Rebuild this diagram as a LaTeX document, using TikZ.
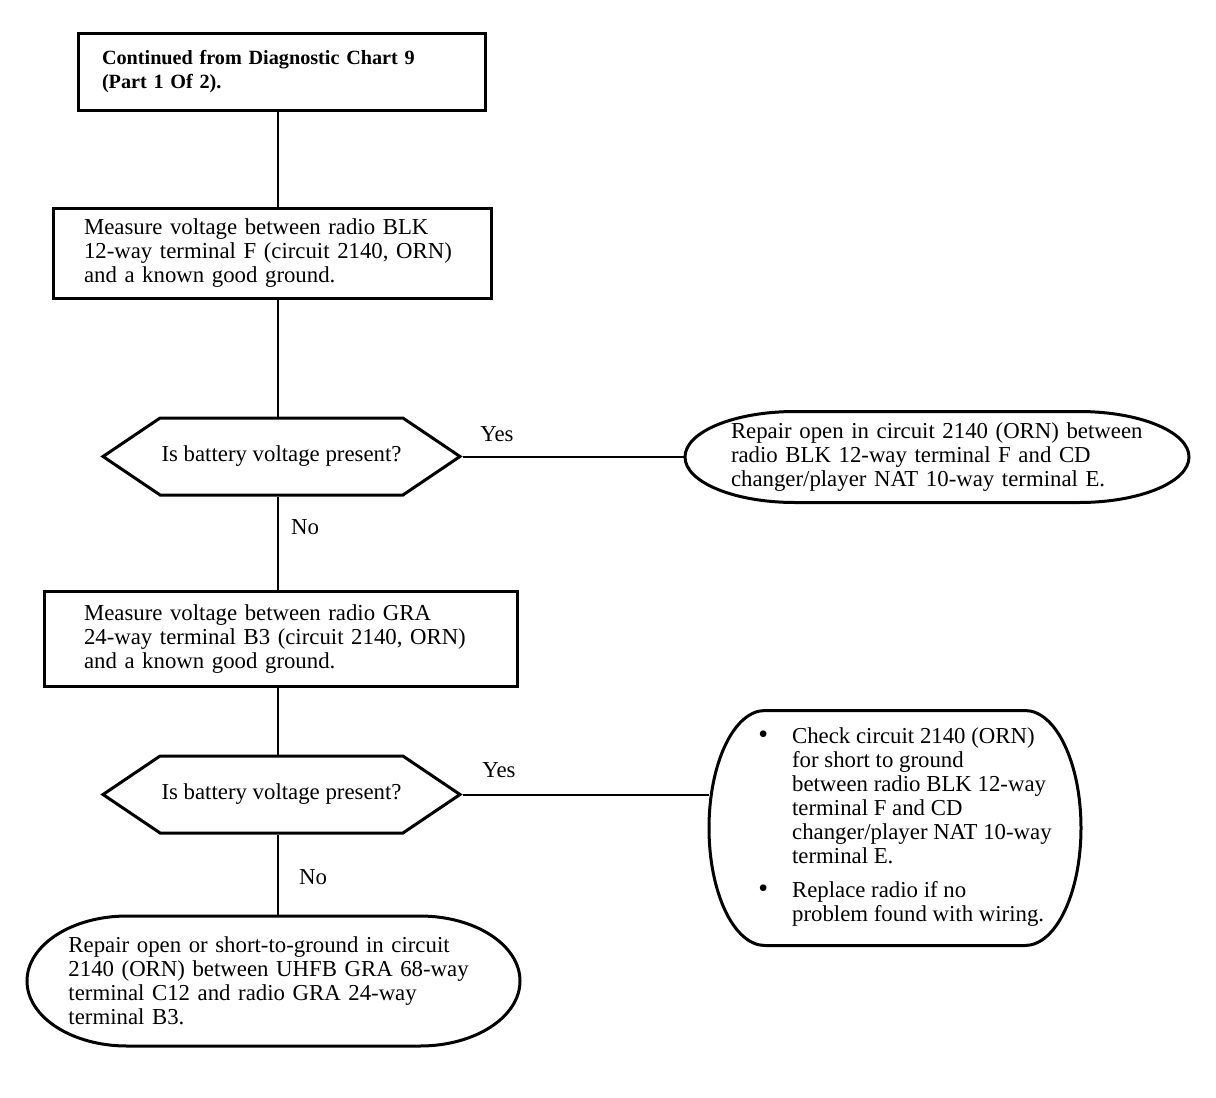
\documentclass[tikz,border=0pt]{standalone}
\usepackage{fontspec}
\setmainfont{Liberation Serif}
\usetikzlibrary{shapes.symbols}
\newcommand{\chartfont}{\fontsize{11.4}{12}\selectfont}
\newcommand{\chkdot}{{\fontsize{14}{12}\selectfont\textbullet}}
% outline of an end box: node, x radius, y radius of the end arcs
\newcommand{\drawterm}[3]{%
	\draw [line width=1.5pt] ([xshift=#2]#1.north west) -- ([xshift=-#2]#1.north east)
		arc [start angle=90,end angle=-90,x radius=#2,y radius=#3]
		-- ([xshift=#2]#1.south west)
		arc [start angle=270,end angle=90,x radius=#2,y radius=#3] -- cycle;}
\begin{document}
\begin{tikzpicture}[x=0.5pt,y=-0.5pt,
	box/.style={draw,line width=1.5pt,rectangle,align=left,inner ysep=0pt,font=\chartfont},
	decision/.style={draw,line width=1.5pt,signal,signal to=west and east,signal pointer angle=68,minimum width=178.5pt,minimum height=38.5pt,inner sep=0pt,font=\chartfont},
	term/.style={rectangle,align=left,inner sep=0pt,outer sep=0pt,font=\chartfont},
	lbl/.style={font=\chartfont}]
	\useasboundingbox (0,0) rectangle (1216,1098);
	\coordinate (trunk) at (278,0);
	% boxes down the left
	\node [box,text width=179.5pt,inner xsep=12pt,minimum height=38.5pt,font=\bfseries\fontsize{10.1}{12}\selectfont] (start) at (281.5,71.5) {Continued from Diagnostic Chart 9\\(Part 1 Of 2).};
	\node [box,text width=188pt,inner xsep=15.5pt,minimum height=45pt] (m1) at (272,253) {Measure voltage between radio BLK\\12-way terminal F (circuit 2140, ORN)\\and a known good ground.};
	\node [decision] (d1) at (281.5,456.5) {Is battery voltage present?};
	\node [box,text width=196.5pt,inner xsep=20pt,minimum height=47.5pt] (m2) at (280.5,639) {Measure voltage between radio GRA\\24-way terminal B3 (circuit 2140, ORN)\\and a known good ground.};
	\node [decision] (d2) at (281.5,794.5) {Is battery voltage present?};
	\node [term,minimum width=246.5pt,minimum height=65pt,text width=205pt] (r2) at (273.5,981) {Repair open or short-to-ground in circuit\\2140 (ORN) between UHFB GRA 68-way\\terminal C12 and radio GRA 24-way\\terminal B3.};
	\drawterm{r2}{50pt}{32.5pt}
	% boxes on the right
	\node [term,minimum width=252pt,minimum height=45.5pt,text width=206pt] (r1) at (937,457) {Repair open in circuit 2140 (ORN) between\\radio BLK 12-way terminal F and CD\\changer/player NAT 10-way terminal E.};
	\drawterm{r1}{55pt}{22.75pt}
	\node [term,minimum width=186pt,minimum height=117.5pt] (check) at (895,828) {\begin{tabular}{@{\hspace{10pt}}l@{\hspace{12pt}}l@{}}
		\chkdot & Check circuit 2140 (ORN)\\
		& for short to ground\\
		& between radio BLK 12-way\\
		& terminal F and CD\\
		& changer/player NAT 10-way\\
		& terminal E.\\[5pt]
		\chkdot & Replace radio if no\\
		& problem found with wiring.
	\end{tabular}};
	\drawterm{check}{28pt}{58.75pt}
	% connectors
	\draw [line width=1pt] (start.south -| trunk) -- (m1.north -| trunk);
	\draw [line width=1pt] (m1.south -| trunk) -- (d1.north -| trunk);
	\draw [line width=1pt] (d1.south -| trunk) -- (m2.north -| trunk);
	\draw [line width=1pt] (m2.south -| trunk) -- (d2.north -| trunk);
	\draw [line width=1pt] (d2.south -| trunk) -- (r2.north -| trunk);
	\draw [line width=1pt] (d1.east) -- (d1.east -| r1.west);
	\draw [line width=1pt] (d2.east) -- (d2.east -| check.west);
	\node [lbl] (yes1) at (497,434) {Yes};
	\node [lbl] (no1) at (305,527) {No};
	\node [lbl] (yes2) at (499,770) {Yes};
	\node [lbl] (no2) at (313,877) {No};
\end{tikzpicture}
\end{document}
